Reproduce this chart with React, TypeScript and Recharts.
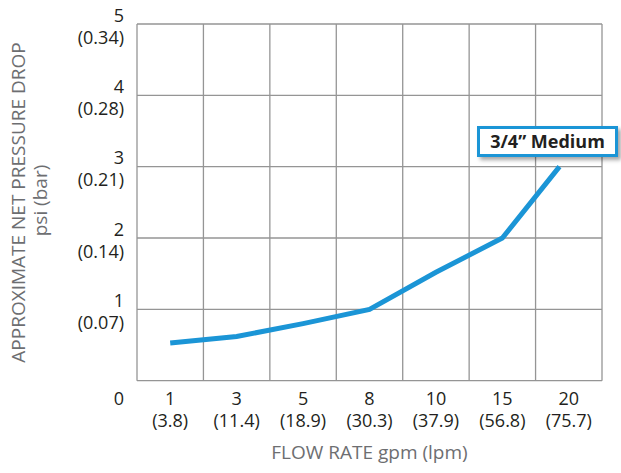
import React from 'react';
import { LineChart, Line, XAxis, YAxis, CartesianGrid } from 'recharts';

// Flow-rate categories (one column each)
const gpmLabels = ['1', '3', '5', '8', '10', '15', '20'];
const lpmLabels = ['(3.8)', '(11.4)', '(18.9)', '(30.3)', '(37.9)', '(56.8)', '(75.7)'];

// Pressure axis ticks
const psiTicks = [0, 1, 2, 3, 4, 5];
const barLabels = ['', '(0.07)', '(0.14)', '(0.21)', '(0.28)', '(0.34)'];

// Curve: position along the category columns (0 = "1 gpm") and psi
const curvePos = [0, 1, 2, 3, 4, 5, 5.86];
const curvePsi = [0.53, 0.62, 0.8, 1.0, 1.52, 2.0, 3.0];

const seriesName = '3/4\u201D Medium';

const data = curvePos.map((p, i) => ({ pos: p, psi: curvePsi[i] }));
const xTicks = gpmLabels.map((_, i) => i);

const FONT = '"Open Sans", "Noto Sans", sans-serif';
const TEXT = '#231f20';
const GRAY = '#6d6e71';
const GRID = '#959595';
const BLUE = '#1b95d6';

const XTick = (props: any) => {
  const { x, y, payload } = props;
  const i = payload.value as number;
  return (
    <text
      x={x}
      y={y + 17}
      textAnchor="middle"
      dominantBaseline="central"
      fontFamily={FONT}
      fontSize={18}
      fill={TEXT}
    >
      <tspan x={x}>{gpmLabels[i]}</tspan>
      <tspan x={x} dy={22}>
        {lpmLabels[i]}
      </tspan>
    </text>
  );
};

const YTick = (props: any) => {
  const { x, y, payload } = props;
  const v = payload.value as number;
  const idx = psiTicks.indexOf(v);
  const tx = x - 13;
  if (v === 0) {
    return (
      <text x={tx} y={y + 17} textAnchor="end" dominantBaseline="central" fontFamily={FONT} fontSize={18} fill={TEXT}>
        {String(v)}
      </text>
    );
  }
  return (
    <text
      x={tx}
      y={y - 9.5}
      textAnchor="end"
      dominantBaseline="central"
      fontFamily={FONT}
      fontSize={18}
      fill={TEXT}
    >
      <tspan x={tx}>{String(v)}</tspan>
      <tspan x={tx} dy={22}>
        {barLabels[idx]}
      </tspan>
    </text>
  );
};

const verticalGen = (args: any) => {
  const n = gpmLabels.length;
  const off = args.offset || {};
  const left = off.left ?? 137;
  const w = off.width ?? 465;
  return Array.from({ length: n + 1 }, (_, i) => left + (w * i) / n);
};

export default function App() {
  const W = 621;
  const H = 473;
  return (
    <div style={{ position: 'absolute', left: 0, top: 0, width: W, height: H, background: '#fff' }}>
      <LineChart
        width={W}
        height={H}
        data={data}
        margin={{ top: 24, right: 19, left: 0, bottom: 0 }}
      >
        <CartesianGrid
          stroke={GRID}
          strokeWidth={1.3}
          verticalCoordinatesGenerator={verticalGen}
        />
        <XAxis
          dataKey="pos"
          type="number"
          domain={[-0.5, 6.5]}
          ticks={xTicks}
          interval={0}
          axisLine={false}
          tickLine={false}
          tickSize={0}
          tickMargin={0}
          height={92.3}
          tick={<XTick />}
          allowDataOverflow
        />
        <YAxis
          type="number"
          domain={[0, 5]}
          ticks={psiTicks}
          interval={0}
          axisLine={false}
          tickLine={false}
          tickSize={0}
          tickMargin={0}
          width={137}
          tick={<YTick />}
        />
        <Line
          type="linear"
          dataKey="psi"
          name={seriesName}
          stroke={BLUE}
          strokeWidth={5}
          dot={false}
          activeDot={false}
          isAnimationActive={false}
        />
      </LineChart>
      <svg width={W} height={H} style={{ position: 'absolute', left: 0, top: 0, pointerEvents: 'none' }}>
        <text
          transform="rotate(-90, 25, 202.5)"
          x={25}
          y={202.5}
          textAnchor="middle"
          fontFamily={FONT}
          fontSize={19}
          fill={GRAY}
        >
          APPROXIMATE NET PRESSURE DROP
        </text>
        <text
          transform="rotate(-90, 47, 200.5)"
          x={47}
          y={200.5}
          textAnchor="middle"
          fontFamily={FONT}
          fontSize={19}
          fill={GRAY}
        >
          psi (bar)
        </text>
        <text x={369.5} y={459} textAnchor="middle" fontFamily={FONT} fontSize={19} fill={GRAY}>
          FLOW RATE gpm (lpm)
        </text>
      </svg>
      <div
        style={{
          position: 'absolute',
          left: 477,
          top: 126,
          width: 141,
          height: 31,
          boxSizing: 'border-box',
          border: `3px solid ${BLUE}`,
          background: '#fff',
          boxShadow: '3px 3px 4px rgba(0,0,0,0.35)',
          fontFamily: FONT,
          fontWeight: 700,
          fontSize: 18,
          lineHeight: '25px',
          textAlign: 'center',
          color: TEXT,
          whiteSpace: 'nowrap',
        }}
      >
        {seriesName}
      </div>
    </div>
  );
}
